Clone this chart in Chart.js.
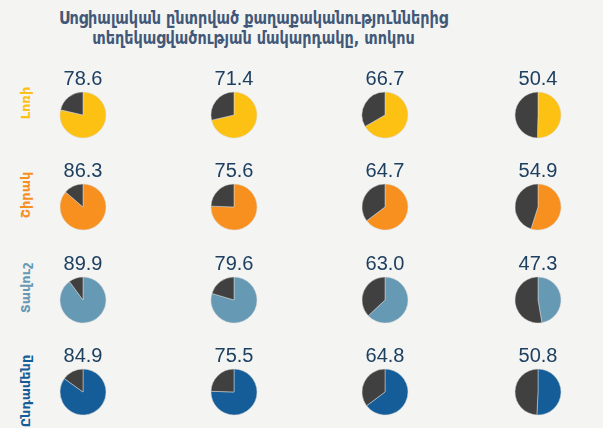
<!DOCTYPE html>
<html>
<head>
<meta charset="utf-8">
<script src="https://cdn.jsdelivr.net/npm/chart.js@4.4.1/dist/chart.umd.min.js"></script>
<style>
    html, body {
        margin: 0;
        padding: 0;
        width: 603px;
        height: 428px;
        overflow: hidden;
        background: #f4f4f2;
        font-family: "DejaVu Sans", sans-serif;
    }
    #stage {
        position: relative;
        width: 603px;
        height: 428px;
    }
    h1 {
        position: absolute;
        left: -48px;
        top: 8px;
        width: 603px;
        margin: 0;
        text-align: center;
        font-family: "DejaVu Sans Condensed", "DejaVu Sans", sans-serif;
        font-size: 18px;
        line-height: 20px;
        font-weight: bold;
        color: #415879;
        transform: scaleX(0.89);
        transform-origin: 50% 50%;
    }
    .row-label {
        position: absolute;
        font-size: 13px;
        font-weight: bold;
        white-space: nowrap;
        transform: translate(-50%, -50%) rotate(-90deg);
    }
    .cell {
        position: absolute;
        width: 130px;
        height: 72px;
    }
</style>
</head>
<body>
<div id="stage">
    <h1>Սոցիալական ընտրված քաղաքականություններից<br>տեղեկացվածության մակարդակը, տոկոս</h1>
</div>
<script>
// ---------- 数据 ----------
const regions = ['Լոռի', 'Շիրակ', 'Տավուշ', 'Ընդամենը'];
const regionColors = ['#fdc113', '#f7901e', '#6699b4', '#145d99'];
const lorriValues = [78.6, 71.4, 66.7, 50.4];
const shirakValues = [86.3, 75.6, 64.7, 54.9];
const tavushValues = [89.9, 79.6, 63.0, 47.3];
const totalValues = [84.9, 75.5, 64.8, 50.8];
const rowValues = [lorriValues, shirakValues, tavushValues, totalValues];

const restColor = '#404040';

// 布局
const colCenters = [83, 234, 385, 538];
const rowCenters = [114.5, 206, 299.5, 391.5];
const labelCenters = [103, 195, 287.5, 391];

const stage = document.getElementById('stage');

regions.forEach((name, r) => {
    const lbl = document.createElement('div');
    lbl.className = 'row-label';
    lbl.textContent = name;
    lbl.style.color = regionColors[r];
    lbl.style.left = '25px';
    lbl.style.top = labelCenters[r] + 'px';
    stage.appendChild(lbl);

    rowValues[r].forEach((v, c) => {
        const cell = document.createElement('div');
        cell.className = 'cell';
        cell.style.left = (colCenters[c] - 65) + 'px';
        cell.style.top = (rowCenters[r] - 47.4) + 'px';
        const canvas = document.createElement('canvas');
        cell.appendChild(canvas);
        stage.appendChild(cell);

        new Chart(canvas, {
            type: 'pie',
            data: {
                labels: [name, ''],
                datasets: [{
                    data: [v, +(100 - v).toFixed(1)],
                    backgroundColor: [regionColors[r], restColor],
                    borderColor: '#d8d8d8',
                    borderWidth: 0.5,
                    radius: 23,
                }]
            },
            options: {
                responsive: true,
                maintainAspectRatio: false,
                animation: false,
                layout: { padding: 0 },
                plugins: {
                    legend: { display: false },
                    tooltip: { enabled: false },
                    title: {
                        display: true,
                        text: v.toFixed(1),
                        color: '#1d3f60',
                        font: { family: 'Liberation Sans, Arial, sans-serif', size: 20, weight: 'normal' },
                        padding: { top: 0, bottom: 0 }
                    }
                }
            }
        });
    });
});
</script>
</body>
</html>
